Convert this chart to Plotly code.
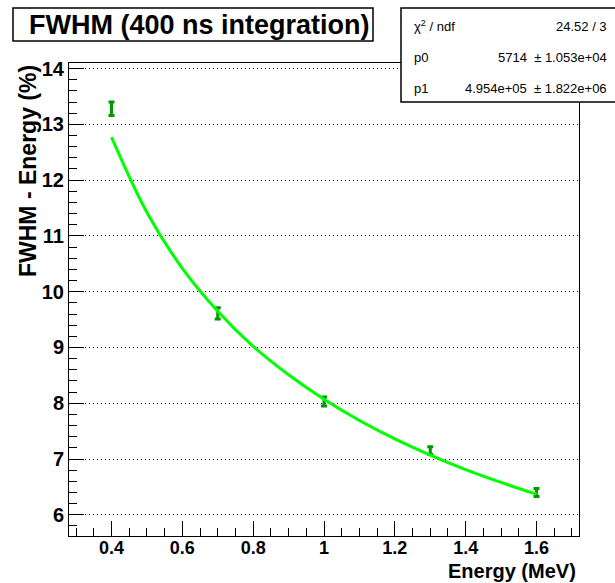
import plotly.graph_objects as go

# Measured data points (energy in MeV, FWHM in %)
energy = [0.4, 0.7, 1.0, 1.3, 1.6]
fwhm = [13.28, 9.61, 8.03, 7.15, 6.40]
fwhm_err = [0.12, 0.10, 0.08, 0.07, 0.07]

# Fit curve
fit_x = [0.4, 0.5, 0.6, 0.7, 0.8, 0.9, 1.0, 1.1, 1.2, 1.3, 1.4, 1.5, 1.6]
fit_y = [12.77, 11.42, 10.42, 9.65, 9.02, 8.51, 8.07, 7.69, 7.36, 7.07, 6.81, 6.58, 6.37]

x_ticks = [0.4, 0.6, 0.8, 1.0, 1.2, 1.4, 1.6]
x_tick_labels = ["0.4", "0.6", "0.8", "1", "1.2", "1.4", "1.6"]
y_ticks = [6, 7, 8, 9, 10, 11, 12, 13, 14]

title_text = "FWHM (400 ns integration)"
stats_rows = [("χ<sup>2</sup> / ndf", "24.52 / 3"),
              ("p0", "5714  ± 1.053e+04"),
              ("p1", "4.954e+05  ± 1.822e+06")]

W, H = 615, 583
L, R, T, B = 69, 579, 63, 536  # plot frame in pixels


def px(x):
    return (x - L) / (R - L)


def py(y):
    return (B - y) / (B - T)


FONT = "Liberation Sans, Arial, sans-serif"

fig = go.Figure()
fig.add_trace(go.Scatter(
    x=energy, y=fwhm, mode="markers",
    marker=dict(size=2, color="#009900"),
    error_y=dict(type="data", array=fwhm_err, color="#009900", thickness=3, width=3),
    showlegend=False, hoverinfo="x+y"))
fig.add_trace(go.Scatter(
    x=fit_x, y=fit_y, mode="lines", line=dict(color="#00ff00", width=3, shape="spline"),
    showlegend=False))

fig.update_layout(
    width=W, height=H,
    margin=dict(l=L, r=W - R, t=T, b=H - B),
    paper_bgcolor="white", plot_bgcolor="white",
    font=dict(family=FONT, color="black"),
)

fig.update_xaxes(
    range=[0.28, 1.72], tickvals=x_ticks, ticktext=x_tick_labels,
    ticks="inside", ticklen=15, tickwidth=1, tickcolor="black",
    minor=dict(dtick=0.05, tick0=0.3, ticks="inside", ticklen=8, tickcolor="black", showgrid=False),
    showline=True, linecolor="black", linewidth=1, mirror=True,
    showgrid=False, zeroline=False, ticklabelstandoff=-5,
    tickfont=dict(size=18, family=FONT, weight="bold", color="black"),
)
fig.update_yaxes(
    range=[5.62, 14.1], tickvals=y_ticks,
    ticks="inside", ticklen=15, tickwidth=1, tickcolor="black",
    minor=dict(dtick=0.2, tick0=6, ticks="inside", ticklen=8, tickcolor="black", showgrid=False),
    showline=True, linecolor="black", linewidth=1, mirror=True,
    showgrid=True, gridcolor="black", griddash="1px,3px", gridwidth=1,
    zeroline=False,
    tickfont=dict(size=20, family=FONT, weight="bold", color="black"),
)

# Title box
fig.add_shape(type="rect", xref="paper", yref="paper",
              x0=px(13), x1=px(373), y0=py(41), y1=py(8),
              fillcolor="white", line=dict(color="black", width=1.5), layer="above")
fig.add_annotation(xref="paper", yref="paper", x=px(27), y=py(24.5),
                   xanchor="left", yanchor="middle", showarrow=False,
                   text=title_text, font=dict(size=27, family=FONT, weight="bold", color="black"))

# Stats box
fig.add_shape(type="rect", xref="paper", yref="paper",
              x0=px(401), x1=px(640), y0=py(102), y1=py(8),
              fillcolor="white", line=dict(color="black", width=1.5), layer="above")
row_y = [26, 57, 88]
for (lab, val), yy in zip(stats_rows, row_y):
    fig.add_annotation(xref="paper", yref="paper", x=px(412), y=py(yy),
                       xanchor="left", yanchor="middle", showarrow=False,
                       text=lab, font=dict(size=13, family=FONT, color="black"))
    fig.add_annotation(xref="paper", yref="paper", x=px(609), y=py(yy),
                       xanchor="right", yanchor="middle", showarrow=False,
                       text=val, font=dict(size=13, family=FONT, color="black"))

# Axis titles (ROOT style: aligned to the axis end)
fig.add_annotation(xref="paper", yref="paper", x=px(28), y=1.0,
                   xanchor="center", yanchor="top", textangle=-90, showarrow=False,
                   text="FWHM - Energy (%)", font=dict(size=23, family=FONT, weight="bold", color="black"))
fig.add_annotation(xref="paper", yref="paper", x=px(578), y=py(571),
                   xanchor="right", yanchor="middle", showarrow=False,
                   text="Energy (MeV)", font=dict(size=20, family=FONT, weight="bold", color="black"))

fig.write_html("out.html")
